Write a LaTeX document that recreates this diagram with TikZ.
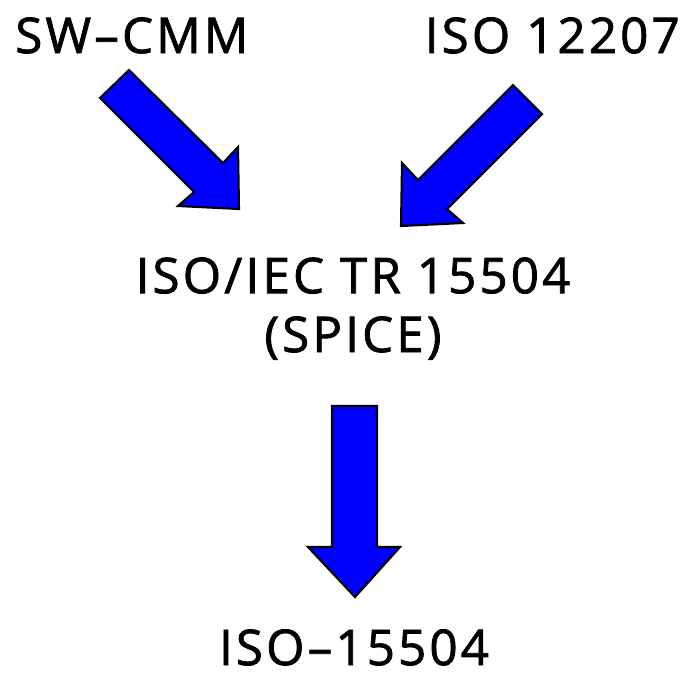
\documentclass[tikz,border=0pt]{standalone}
\usepackage{fontspec}
\setmainfont{Open Sans}[LetterSpace=6.5, FakeBold=1.6]

\begin{document}
\begin{tikzpicture}[x=0.02cm, y=-0.02cm, label/.style={inner sep=0pt, font=\fontsize{28}{33.5}\selectfont}, blockarrow/.style={line width=1.2pt, draw=black, fill=blue, line join=miter}]
			\useasboundingbox (0,0) rectangle (695,677);
			\node[label, anchor=base west] (swcmm) at (15,53) {SW--CMM};
			\node[label, anchor=base east] (iso12207) at (680,53) {ISO 12207};
			\node[label, anchor=base, align=center] (spice) at (353,352) {ISO/IEC TR 15504\\(SPICE)};
			\node[label, anchor=base] (iso15504) at (354,665) {ISO--15504};
			% arrows
			\draw[blockarrow] (129,70) -- (223,163) -- (238,147) -- (239,209) -- (178,206) -- (194,192) -- (100,98) -- cycle;
			\draw[blockarrow] (513,85) -- (542,114) -- (447,209) -- (463,223) -- (401,226) -- (402,163) -- (418,180) -- cycle;
			\draw[blockarrow] (332,406) -- (377,406) -- (377,547) -- (400,547) -- (355,597) -- (308,547) -- (332,547) -- cycle;
\end{tikzpicture}
\end{document}
